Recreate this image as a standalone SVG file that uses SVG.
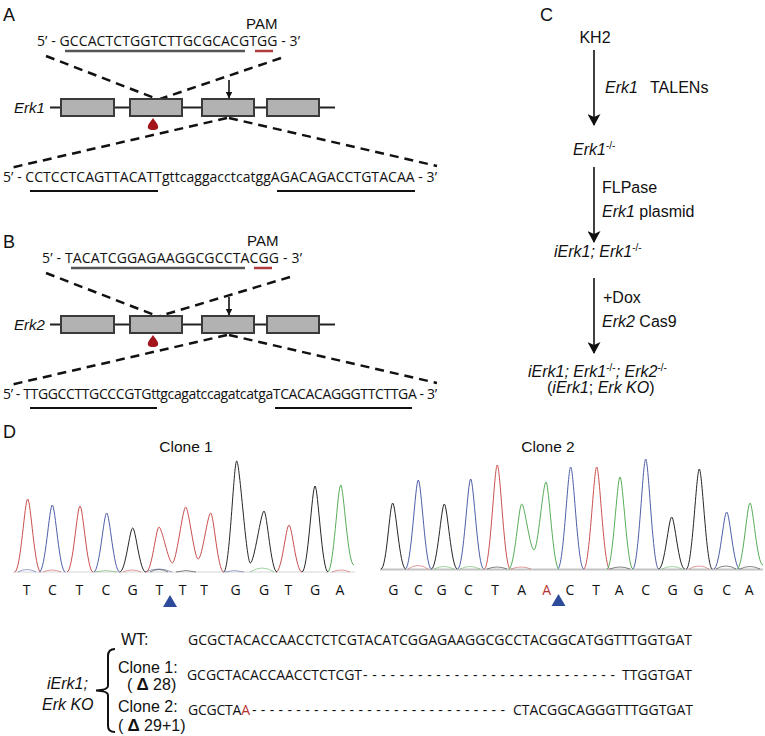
<svg xmlns="http://www.w3.org/2000/svg" width="765" height="736" viewBox="0 0 765 736">
<style>
.seq{font-family:"Open Sans","DejaVu Sans",sans-serif;font-size:14px;fill:#111}
.lab{font-family:"Liberation Sans",Arial,sans-serif;fill:#111}
.it{font-style:italic}
.pl{font-family:"Liberation Sans",Arial,sans-serif;font-size:18px;fill:#111}
.dash{stroke:#111;stroke-width:2.5;stroke-dasharray:9 6;fill:none}
.exon{fill:#b2b2b2;stroke:#3a3a3a;stroke-width:2}
.gene{stroke:#222;stroke-width:2}
.ulg{stroke:#555;stroke-width:2.5}
.ul{stroke:#111;stroke-width:2}
.pam{stroke:#b03a3e;stroke-width:2.5}
.drop{fill:#a3151c}
.arr{stroke:#111;stroke-width:1.6;fill:none}
.tr{fill:none;stroke:#c9504e;stroke-width:1}
.tc{fill:none;stroke:#4e5ea8;stroke-width:1}
.tg{fill:none;stroke:#262626;stroke-width:1}
.ta{fill:none;stroke:#58ad58;stroke-width:1}
.bump{fill:none;stroke-width:0.8;opacity:0.7}
.base{font-family:"Open Sans","DejaVu Sans",sans-serif;font-size:14px;fill:#111;text-anchor:middle}
.tri{fill:#2e4b9b}
</style>
<defs>
<marker id="ah" markerUnits="userSpaceOnUse" markerWidth="12" markerHeight="13" viewBox="0 0 12 13" refX="11" refY="6.5" orient="auto">
<path d="M0,0 L12,6.5 L0,13 L3,6.5 Z" fill="#111"/>
</marker>
<marker id="ahs" markerUnits="userSpaceOnUse" markerWidth="7" markerHeight="7" viewBox="0 0 7 7" refX="6.5" refY="3.5" orient="auto">
<path d="M0,0 L7,3.5 L0,7 Z" fill="#111"/>
</marker>
</defs>
<rect width="765" height="736" fill="#fff"/>

<!-- Panel A -->
<g id="panelA">
<text class="pl" x="3" y="21">A</text>
<text class="lab" x="246" y="29" font-size="15">PAM</text>
<text class="seq" x="37" y="46" textLength="263" lengthAdjust="spacing">5’ - GCCACTCTGGTCTTGCGCACGTGG - 3’</text>
<line class="ulg" x1="65" y1="51" x2="245" y2="51"/>
<line class="pam" x1="255" y1="51" x2="273" y2="51"/>
<line class="dash" x1="46" y1="56" x2="157" y2="99"/>
<line class="dash" x1="281" y1="58" x2="160" y2="99"/>
<line class="arr" x1="229" y1="80" x2="229" y2="98" marker-end="url(#ahs)"/>
<g id="erk1_gene">
<text class="lab it" x="14" y="113" font-size="15">Erk1</text>
<line class="gene" x1="50" y1="107.5" x2="335" y2="107.5"/>
<rect class="exon" x="61" y="99" width="53" height="17"/>
<rect class="exon" x="130" y="99" width="52" height="17"/>
<rect class="exon" x="202" y="99" width="52" height="17"/>
<rect class="exon" x="267" y="99" width="52" height="17"/>
<path class="drop" d="M153,118 C155,121 159,125 158,128 Q157,130 153,130 Q149,130 148,128 C147,125 151,121 153,118 Z"/>
</g>
<line class="dash" x1="227" y1="118" x2="10" y2="168"/>
<line class="dash" x1="229" y1="118" x2="437" y2="166"/>
<text class="seq" x="3" y="182" textLength="434" lengthAdjust="spacing">5’ - CCTCCTCAGTTACATTgttcaggacctcatggAGACAGACCTGTACAA - 3’</text>
<line class="ul" x1="30" y1="191" x2="158" y2="191"/>
<line class="ul" x1="277" y1="191" x2="415" y2="191"/>
</g>

<!-- Panel B -->
<g id="panelB">
<text class="pl" x="3" y="248">B</text>
<text class="lab" x="247" y="246" font-size="15">PAM</text>
<text class="seq" x="42" y="263" textLength="260" lengthAdjust="spacing">5’ - TACATCGGAGAAGGCGCCTACGG - 3’</text>
<line class="ulg" x1="71" y1="268" x2="245" y2="268"/>
<line class="pam" x1="254" y1="268" x2="272" y2="268"/>
<line class="dash" x1="46" y1="273" x2="157" y2="316"/>
<line class="dash" x1="290" y1="277" x2="160" y2="316"/>
<line class="arr" x1="229" y1="297" x2="229" y2="315" marker-end="url(#ahs)"/>
<g id="erk2_gene">
<text class="lab it" x="14" y="330" font-size="15">Erk2</text>
<line class="gene" x1="50" y1="324.5" x2="335" y2="324.5"/>
<rect class="exon" x="61" y="316" width="53" height="17"/>
<rect class="exon" x="130" y="316" width="52" height="17"/>
<rect class="exon" x="202" y="316" width="52" height="17"/>
<rect class="exon" x="267" y="316" width="52" height="17"/>
<path class="drop" d="M153,335 C155,338 159,342 158,345 Q157,347 153,347 Q149,347 148,345 C147,342 151,338 153,335 Z"/>
</g>
<line class="dash" x1="227" y1="335" x2="10" y2="385"/>
<line class="dash" x1="229" y1="335" x2="437" y2="383"/>
<text class="seq" x="3" y="399" textLength="434" lengthAdjust="spacing">5’ - TTGGCCTTGCCCGTGttgcagatccagatcatgaTCACACAGGGTTCTTGA - 3’</text>
<line class="ul" x1="30" y1="408" x2="157" y2="408"/>
<line class="ul" x1="275" y1="408" x2="412" y2="408"/>
</g>

<!-- Panel C -->
<g id="panelC">
<text class="pl" x="540" y="21">C</text>
<g id="kh2"><text class="lab" x="595" y="43" font-size="16" text-anchor="middle">KH2</text></g>
<g id="erk1ko"><text class="lab it" x="573" y="155" font-size="16">Erk1<tspan font-size="10" dy="-6" font-style="normal">-/-</tspan></text></g>
<g id="ierk1"><text class="lab it" x="554" y="257" font-size="16">iErk1; Erk1<tspan font-size="10" dy="-6" font-style="normal">-/-</tspan></text></g>
<g id="ierk1_erkko">
<text class="lab it" x="528" y="377" font-size="16">iErk1; Erk1<tspan font-size="10" dy="-6" font-style="normal">-/-</tspan><tspan dy="6">; Erk2</tspan><tspan font-size="10" dy="-6" font-style="normal">-/-</tspan></text>
<text class="lab" x="547" y="393" font-size="16">(<tspan font-style="italic">iErk1</tspan>; <tspan font-style="italic">Erk KO</tspan>)</text>
</g>
<g id="connectors">
<line class="arr" x1="594" y1="50" x2="594" y2="125" marker-end="url(#ah)"/>
<line class="arr" x1="594" y1="167" x2="594" y2="242" marker-end="url(#ah)"/>
<line class="arr" x1="594" y1="278" x2="594" y2="353" marker-end="url(#ah)"/>
</g>
<text class="lab" x="605" y="93" font-size="16"><tspan font-style="italic">Erk1</tspan><tspan x="650">TALENs</tspan></text>
<text class="lab" x="602" y="193" font-size="16">FLPase</text>
<text class="lab" x="602" y="217" font-size="16"><tspan font-style="italic">Erk1</tspan> plasmid</text>
<text class="lab" x="603" y="303" font-size="16">+Dox</text>
<text class="lab" x="602" y="327" font-size="16"><tspan font-style="italic">Erk2</tspan> Cas9</text>
</g>

<!-- Panel D -->
<g id="panelD">
<text class="pl" x="3" y="438">D</text>
<text class="lab" x="186" y="452" font-size="15.5" text-anchor="middle">Clone 1</text>
<text class="lab" x="548" y="452" font-size="15.5" text-anchor="middle">Clone 2</text>

<g id="chrom1">
<line x1="13" y1="572" x2="355" y2="572" stroke="#ccc" stroke-width="0.8"/>
<path class="bump" stroke="#4e5ea8" d="M18,572 Q27,567 36,572 M145,572 Q159,566 172,572 M225,572 Q234,569 244,572"/>
<path class="bump" stroke="#c9504e" d="M43,572 Q52,568 61,572 M123,572 Q132,568 141,572 M332,572 Q341,568 350,572"/>
<path class="bump" stroke="#58ad58" d="M250,572 Q262,564 274,572 M95,572 Q106,569 117,572"/>
<path class="bump" stroke="#262626" d="M150,572 Q159,567 168,572 M176,572 Q186,569 196,572"/>
<path class="tr" d="M14.7,572 C20.7,572 24.7,499 27.7,499 C30.7,499 34.7,572 40.7,572 M67,572 C73,572 77,506 80,506 C83,506 87,572 93,572 M146,572 C152,572 156,527 159,527 C162,527 168.4,563 172.4,563 C176.4,563 182.7,507 185.7,507 C188.7,507 194.2,559 198.2,559 C202.2,559 207.7,513 210.7,513 C213.7,513 217.7,572 223.7,572 M276,572 C282,572 286,525 289,525 C292,525 296,572 302,572"/>
<path class="tc" d="M39.3,572 C45.3,572 49.3,505 52.3,505 C55.3,505 59.3,572 65.3,572 M93.7,572 C99.7,572 103.7,513 106.7,513 C109.7,513 113.7,572 119.7,572"/>
<path class="tg" d="M119.7,572 C125.7,572 129.7,528 132.7,528 C135.7,528 139.7,572 145.7,572 M223.7,572 C229.7,572 233.7,461 236.7,461 C239.7,461 246.3,563 250.3,563 C254.3,563 261,511 264,511 C267,511 271,572 277,572 M302,572 C308,572 312,486 315,486 C318,486 322,572 328,572"/>
<path class="ta" d="M327.7,572 C333.7,572 337.7,485 340.7,485 C343.7,485 347.7,566 354,565"/>
<text class="base" y="595"><tspan x="26.7">T</tspan><tspan x="52.3">C</tspan><tspan x="79.3">T</tspan><tspan x="106">C</tspan><tspan x="132.7">G</tspan><tspan x="159.3">T</tspan><tspan x="182.7">T</tspan><tspan x="204">T</tspan><tspan x="235.7">G</tspan><tspan x="264">G</tspan><tspan x="288.3">T</tspan><tspan x="315">G</tspan><tspan x="340">A</tspan></text>
<polygon class="tri" points="170,595 177,607 163,607"/>
</g>

<g id="chrom2">
<line x1="380" y1="569.5" x2="763" y2="569.5" stroke="#c4c4c4" stroke-width="2"/>
<path class="bump" stroke="#c9504e" d="M408,569 Q418,562 428,569 M511,569 Q521,565 531,569 M689,569 Q699,563 709,569"/>
<path class="bump" stroke="#58ad58" d="M434,569 Q444,564 454,569 M460,569 Q470,564 480,569 M662,569 Q672,564 682,569"/>
<path class="bump" stroke="#262626" d="M487,569 Q497,565 507,569 M610,569 Q620,565 630,569 M716,569 Q726,563 736,569 M740,569 Q750,564 760,569"/>
<path class="tg" d="M381,569 C386.7,569 389.7,503 392.7,503 C395.7,503 399.7,569 405.7,569 M431.3,569 C437.3,569 441.3,504 444.3,504 C447.3,504 451.3,569 457.3,569 M658.7,569 C664.7,569 668.7,517 671.7,517 C674.7,517 678.7,569 684.7,569 M686.3,569 C692.3,569 696.3,469 699.3,469 C702.3,469 706.3,569 712.3,569"/>
<path class="tc" d="M405.3,569 C411.3,569 415.3,480 418.3,480 C421.3,480 425.3,569 431.3,569 M457.7,569 C463.7,569 467.7,479 470.7,479 C473.7,479 477.7,569 483.7,569 M557.7,569 C563.7,569 567.7,467 570.7,467 C573.7,467 577.7,569 583.7,569 M632.7,569 C638.7,569 642.7,459 645.7,459 C648.7,459 652.7,569 658.7,569 M713.7,569 C719.7,569 723.7,512 726.7,512 C729.7,512 733.7,569 739.7,569"/>
<path class="tr" d="M484.3,569 C490.3,569 494.3,465 497.3,465 C500.3,465 504.3,569 510.3,569 M583.7,569 C589.7,569 593.7,467 596.7,467 C599.7,467 603.7,569 609.7,569"/>
<path class="ta" d="M508.7,569 C514.7,569 518.7,504 521.7,504 C524.7,504 530,550 534,550 C538,550 543,482 546,482 C549,482 553,569 559,569 M607,569 C613,569 617,477 620,477 C623,477 627,569 633,569 M737,569 C743,569 747,503 750,503 C753,503 757,566 763,565"/>
<text class="base" y="595"><tspan x="393.3">G</tspan><tspan x="418.3">C</tspan><tspan x="441.7">G</tspan><tspan x="468.3">C</tspan><tspan x="495">T</tspan><tspan x="521.7">A</tspan><tspan x="546.7" fill="#b83232">A</tspan><tspan x="570">C</tspan><tspan x="596">T</tspan><tspan x="619.3">A</tspan><tspan x="645.7">C</tspan><tspan x="672.7">G</tspan><tspan x="698.3">G</tspan><tspan x="726.7">C</tspan><tspan x="749.3">A</tspan></text>
<polygon class="tri" points="558.5,594 565.5,606 551.5,606"/>
</g>

<g id="alignment">
<text class="lab" x="121" y="645" font-size="16">WT:</text>
<text class="seq" x="188" y="645" textLength="504" lengthAdjust="spacing">GCGCTACACCAACCTCTCGTACATCGGAGAAGGCGCCTACGGCATGGTTTGGTGAT</text>
<text class="lab it" x="47" y="689" font-size="16">iErk1;</text>
<text class="lab it" x="42" y="710" font-size="16">Erk KO</text>
<path d="M115,649 Q108,649 108,656 L108,686 Q108,690 96,690.5 Q108,691 108,695 L108,726 Q108,732 115,732" fill="none" stroke="#111" stroke-width="2"/>
<text class="lab" x="118" y="673" font-size="16">Clone 1:</text>
<text class="lab" x="127" y="690" font-size="16">(<tspan font-weight="bold" font-size="17"> Δ</tspan> 28)</text>
<text class="lab" x="118" y="712" font-size="16">Clone 2:</text>
<text class="lab" x="118" y="731" font-size="16">(<tspan font-weight="bold" font-size="17"> Δ</tspan> 29+1)</text>
<text class="seq" x="187" y="680" textLength="175" lengthAdjust="spacing">GCGCTACACCAACCTCTCGT</text>
<text class="seq" x="363" y="680" textLength="252" lengthAdjust="spacing">----------------------------</text>
<text class="seq" x="622" y="680" textLength="70" lengthAdjust="spacing">TTGGTGAT</text>
<text class="seq" x="188" y="715" textLength="62" lengthAdjust="spacing">GCGCTA<tspan fill="#b83232">A</tspan></text>
<text class="seq" x="252" y="715" textLength="253" lengthAdjust="spacing">-----------------------------</text>
<text class="seq" x="513" y="715" textLength="180" lengthAdjust="spacing">CTACGGCAGGGTTTGGTGAT</text>
</g>
</g>
</svg>
